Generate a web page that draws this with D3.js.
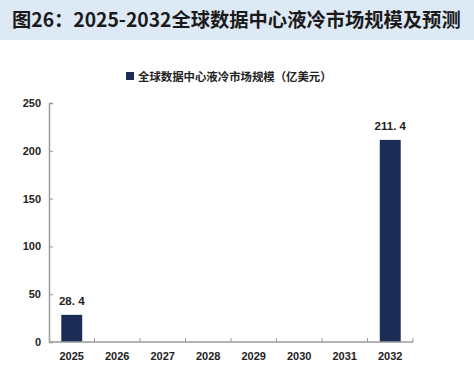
<!DOCTYPE html>
<html>
<head>
<meta charset="utf-8">
<script src="https://cdn.jsdelivr.net/npm/d3@7"></script>
<style>
  body { margin: 0; background: #fff; }
  svg { display: block; }
</style>
</head>
<body>
<svg id="chart" width="474" height="372"></svg>
<script>
const years = ['2025', '2026', '2027', '2028', '2029', '2030', '2031', '2032'];
const values = [28.4, null, null, null, null, null, null, 211.4];
const yTicks = [0, 50, 100, 150, 200, 250];
const titleText = '图26：2025-2032全球数据中心液冷市场规模及预测';
const legendText = '全球数据中心液冷市场规模（亿美元）';

const barColor = '#1b2d56';
const axisColor = '#9a9a9a';
const cjk = '"Noto Sans CJK SC", "Noto Sans", sans-serif';
const latin = 'Arial, "Liberation Sans", sans-serif';

const m = {l: 49, r: 61, t: 103, b: 30};
const W = 474, H = 372;

const svg = d3.select('#chart');

// title band
svg.append('rect').attr('x', 0).attr('y', 0).attr('width', W).attr('height', 40)
  .attr('fill', '#dde9f5');
svg.append('text')
  .attr('x', 12).attr('y', 27)
  .style('font-family', cjk).style('font-size', '19.3px').style('font-weight', 'bold')
  .attr('fill', '#1a1a1a')
  .text(titleText);

const xS = d3.scaleBand().domain(years).range([m.l, W - m.r]).paddingInner(0.54).paddingOuter(0.27);
const yS = d3.scaleLinear().domain([0, 250]).range([H - m.b, m.t]);

// legend
const lg = svg.append('g').attr('transform', 'translate(126,72)');
lg.append('rect').attr('width', 8).attr('height', 8).attr('fill', barColor);
lg.append('text').attr('x', 12).attr('y', 8.5)
  .style('font-family', cjk).style('font-size', '11.4px').style('font-weight', 'bold')
  .attr('fill', '#222').text(legendText);

// bars
const data = years.map((y, i) => ({year: y, v: values[i]})).filter(d => d.v != null);
svg.append('g').selectAll('rect').data(data).join('rect')
  .attr('x', d => xS(d.year))
  .attr('width', xS.bandwidth())
  .attr('y', d => yS(d.v))
  .attr('height', d => yS(0) - yS(d.v))
  .attr('fill', barColor);

svg.append('g').selectAll('text').data(data).join('text')
  .attr('x', d => xS(d.year) + xS.bandwidth() / 2)
  .attr('y', d => yS(d.v) - 10)
  .attr('text-anchor', 'middle')
  .style('font-family', latin).style('font-size', '11.5px').style('font-weight', 'bold')
  .attr('fill', '#222')
  .text(d => d3.format('.1f')(d.v).replace('.', '. '));

// y axis
const yAxis = d3.axisLeft(yS).tickValues(yTicks).tickSize(-4).tickPadding(8);
const gy = svg.append('g').attr('transform', `translate(${m.l},0)`).call(yAxis);
gy.select('.domain').attr('stroke', axisColor).attr('stroke-width', 1.5);
gy.selectAll('.tick line').attr('stroke', axisColor);
gy.selectAll('.tick text')
  .style('font-family', latin).style('font-size', '11px').style('font-weight', 'bold')
  .attr('fill', '#222');

// x axis with ticks between bands
const step = xS.step();
const gx = svg.append('g').attr('transform', `translate(0,${yS(0)})`);
gx.append('line').attr('x1', m.l).attr('x2', W - m.r).attr('stroke', axisColor).attr('stroke-width', 1.5);
gx.selectAll('.sep').data(d3.range(1, years.length + 1)).join('line')
  .attr('class', 'sep')
  .attr('x1', i => m.l + i * step).attr('x2', i => m.l + i * step)
  .attr('y1', 0).attr('y2', -4)
  .attr('stroke', axisColor);
gx.selectAll('.lbl').data(years).join('text')
  .attr('class', 'lbl')
  .attr('x', d => xS(d) + xS.bandwidth() / 2)
  .attr('y', 18)
  .attr('text-anchor', 'middle')
  .style('font-family', latin).style('font-size', '11px').style('font-weight', 'bold')
  .attr('fill', '#222')
  .text(d => d);
</script>
</body>
</html>
